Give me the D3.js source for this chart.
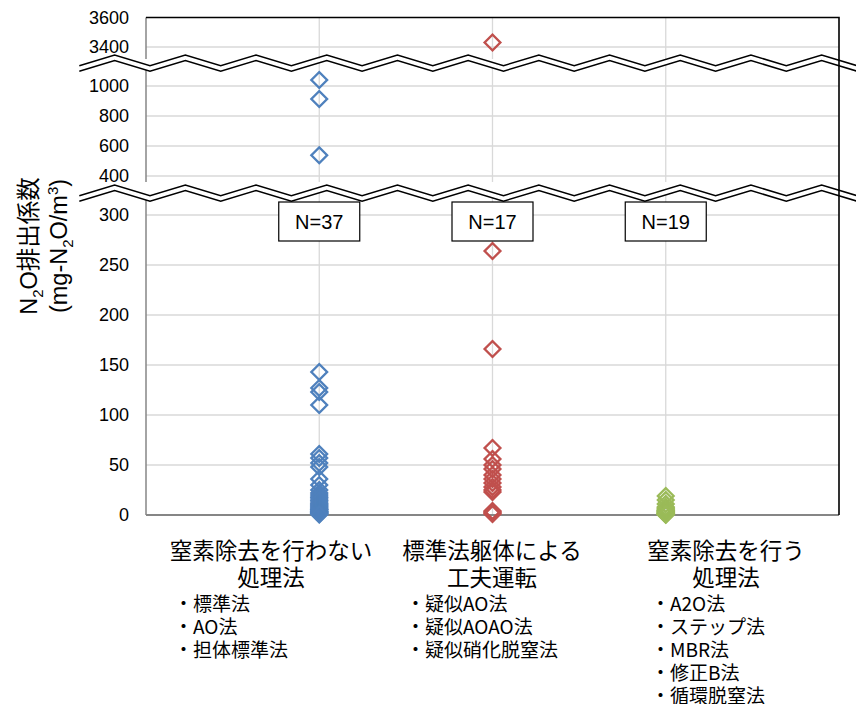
<!DOCTYPE html>
<html>
<head>
<meta charset="utf-8">
<script src="https://cdn.jsdelivr.net/npm/d3@7/dist/d3.min.js"></script>
<style>
  body { margin: 0; background: #fff; }
  svg { display: block; }
</style>
</head>
<body>
<div id="chart"></div>
<script>
// categories (x = 1, 2, 3)
const categories = [1, 2, 3];
const categoryLabels = [
    ["窒素除去を行わない", "処理法"],
    ["標準法躯体による", "工夫運転"],
    ["窒素除去を行う", "処理法"]
];
const methodLists = [
    ["・標準法", "・AO法", "・担体標準法"],
    ["・疑似AO法", "・疑似AOAO法", "・疑似硝化脱窒法"],
    ["・A2O法", "・ステップ法", "・MBR法", "・修正B法", "・循環脱窒法"]
];
const sampleCounts = ["N=37", "N=17", "N=19"];

// N2O emission factors (mg-N2O/m3)
const noNitrogenRemoval = [
    1040, 913, 538,
    143, 127, 123, 110,
    61, 57, 52, 48, 36, 30,
    25, 22, 20, 18, 17, 15, 14, 12, 11, 10,
    9, 8, 7, 6, 5.5, 5, 4, 3.5, 3, 2.5, 2, 1.5, 1, 0.5
];
const modifiedOperation = [
    3430, 264, 166,
    67, 56, 50, 46, 40, 36, 32, 28, 25, 23, 4, 3, 2, 1
];
const nitrogenRemoval = [
    19, 15, 11, 8, 7, 6, 5, 4.5, 4, 3.5, 3, 2.5, 2, 1.5, 1.2, 1, 0.8, 0.5, 0.3
];
const seriesValues = [noNitrogenRemoval, modifiedOperation, nitrogenRemoval];
const seriesColors = ["#4F81BD", "#C0504D", "#9BBB59"];

// y-axis tick labels for each of the three axis pieces
const ticksLow = [0, 50, 100, 150, 200, 250, 300];
const ticksMid = [400, 600, 800, 1000];
const ticksHigh = [3400, 3600];

const width = 856, height = 704;
const left = 146, right = 839;

const svg = d3.select("#chart").append("svg")
    .attr("width", width)
    .attr("height", height);

const x = d3.scaleLinear().domain([0, 4]).range([left, right]);

// three pieces of the broken axis
const yLow = d3.scaleLinear().domain([0, 300]).range([515, 215]);
const yMid = d3.scaleLinear().domain([400, 1000]).range([176, 86]);
const yHigh = d3.scaleLinear().domain([3400, 3600]).range([47, 17.5]);

const yFor = v => v >= 3400 ? yHigh(v) : (v >= 400 ? yMid(v) : yLow(v));

const gridColor = "#d9d9d9";
const numFont = "'Liberation Sans', Arial, sans-serif";
const jpFont = "'Noto Sans CJK JP', sans-serif";

// horizontal gridlines
const grid = svg.append("g");
[[ticksLow.slice(1), yLow], [ticksMid, yMid], [ticksHigh.slice(0, 1), yHigh]].forEach(([ticks, sc]) => {
    grid.selectAll(null).data(ticks).enter().append("line")
        .attr("x1", left).attr("x2", right)
        .attr("y1", d => sc(d)).attr("y2", d => sc(d))
        .attr("stroke", gridColor).attr("stroke-width", 1.3);
});

// vertical gridlines at each category
grid.selectAll(null).data(categories).enter().append("line")
    .attr("x1", d => x(d)).attr("x2", d => x(d))
    .attr("y1", yHigh(3600)).attr("y2", yLow(0))
    .attr("stroke", gridColor).attr("stroke-width", 1.3);

// axes lines
svg.append("line")
    .attr("x1", left).attr("x2", left)
    .attr("y1", yHigh(3600)).attr("y2", yLow(0))
    .attr("stroke", "#868686").attr("stroke-width", 1.5);
svg.append("line")
    .attr("x1", left).attr("x2", right)
    .attr("y1", yLow(0)).attr("y2", yLow(0))
    .attr("stroke", "#868686").attr("stroke-width", 2);

// tick labels
const tickG = svg.append("g")
    .style("font-family", numFont)
    .style("font-size", "18px")
    .attr("fill", "#000");
[[ticksLow, yLow], [ticksMid, yMid], [ticksHigh, yHigh]].forEach(([ticks, sc]) => {
    tickG.selectAll(null).data(ticks).enter().append("text")
        .attr("x", 129)
        .attr("y", d => sc(d))
        .attr("dy", "0.36em")
        .attr("text-anchor", "end")
        .text(d => d);
});

// data points: hollow diamonds
const diamond = d3.symbol().type(d3.symbolSquare).size(125)();
seriesValues.forEach((vals, i) => {
    svg.append("g").selectAll("path")
        .data(vals)
        .enter()
        .append("path")
        .attr("d", diamond)
        .attr("transform", d => `translate(${x(categories[i])},${yFor(d)}) rotate(45)`)
        .attr("fill", "none")
        .attr("stroke", seriesColors[i])
        .attr("stroke-width", 2.3);
});

// axis break marks (white band + double zigzag)
function drawBreak(top, peakA) {
    const x0 = 79.3, step = 35.35, n = 22;
    const pts = d3.range(n + 1).map(k => [x0 + k * step, k % 2 === 0 ? 1 : 0]);
    const lineA = pts.map(([px, t]) => [px, peakA + t * 10.7]);
    const lineB = pts.map(([px, t]) => [px, peakA + 5.5 + t * 10.7]);
    const band = [[x0, top], [x0 + n * step, top]].concat(lineB.slice().reverse());
    svg.append("path")
        .attr("d", d3.line()(band) + "Z")
        .attr("fill", "#fff");
    [lineA, lineB].forEach(l => {
        svg.append("path")
            .attr("d", d3.line()(l))
            .attr("fill", "none")
            .attr("stroke", "#000")
            .attr("stroke-width", 1.5);
    });
}
drawBreak(59, 55);
drawBreak(182, 185);

// frame top / right
svg.append("path")
    .attr("d", `M${left},${yHigh(3600)}H${right}V${yLow(0)}`)
    .attr("fill", "none")
    .attr("stroke", "#000")
    .attr("stroke-width", 1.6);

// N= boxes
const boxes = svg.append("g").selectAll("g")
    .data(categories)
    .enter()
    .append("g")
    .attr("transform", d => `translate(${x(d)},0)`);
boxes.append("rect")
    .attr("x", -40.5).attr("y", 202)
    .attr("width", 81).attr("height", 39)
    .attr("fill", "#fff")
    .attr("stroke", "#000")
    .attr("stroke-width", 1.2);
boxes.append("text")
    .attr("y", 229)
    .attr("text-anchor", "middle")
    .style("font-family", numFont)
    .style("font-size", "20px")
    .text((d, i) => sampleCounts[i]);

// category labels under the axis
const labelCenters = [271, 492, 726];
const listStarts = [174, 406, 651];
categoryLabels.forEach((lines, i) => {
    lines.forEach((t, j) => {
        svg.append("text")
            .attr("x", labelCenters[i])
            .attr("y", 549 + j * 27)
            .attr("dominant-baseline", "central")
            .attr("text-anchor", "middle")
            .style("font-family", jpFont)
            .style("font-size", "22.5px")
            .text(t);
    });
    methodLists[i].forEach((t, j) => {
        svg.append("text")
            .attr("x", listStarts[i])
            .attr("y", 602 + j * 23.2)
            .attr("dominant-baseline", "central")
            .style("font-family", jpFont)
            .style("font-size", "19px")
            .text(t);
    });
});

// y-axis title
const title = svg.append("g")
    .attr("transform", "translate(0,246) rotate(-90)")
    .style("font-family", "'Liberation Sans', 'Noto Sans CJK JP', sans-serif")
    .style("font-size", "23.5px");
const t1 = title.append("text").attr("x", 0).attr("y", 37).attr("text-anchor", "middle");
t1.append("tspan").text("N");
t1.append("tspan").attr("dy", 6).style("font-size", "15px").text("2");
t1.append("tspan").attr("dy", -6).text("O排出係数");
const t2 = title.append("text").attr("x", 0).attr("y", 67).attr("text-anchor", "middle");
t2.append("tspan").text("(mg-N");
t2.append("tspan").attr("dy", 6).style("font-size", "15px").text("2");
t2.append("tspan").attr("dy", -6).text("O/m");
t2.append("tspan").attr("dy", -9).style("font-size", "15px").text("3");
t2.append("tspan").attr("dy", 9).text(")");
</script>
</body>
</html>
